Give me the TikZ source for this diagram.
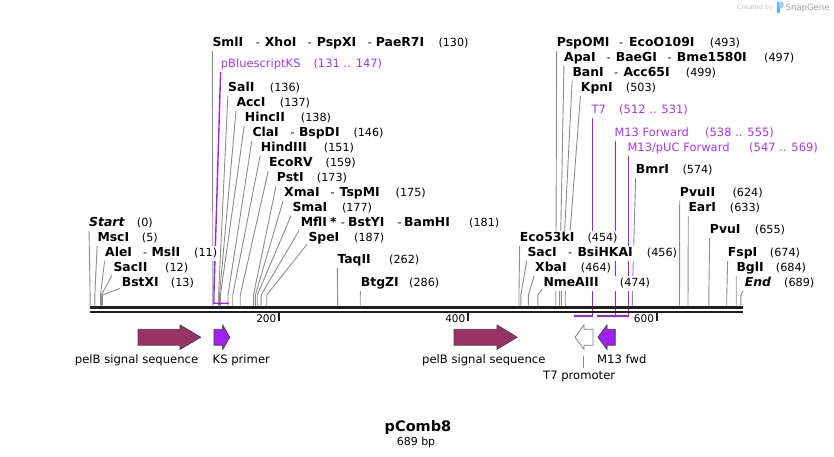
\documentclass[tikz,border=0pt]{standalone}
\usepackage{fontspec}
\setmainfont{DejaVu Sans}
\definecolor{purp}{RGB}{160,32,240}
\definecolor{purptxt}{RGB}{165,55,240}
\definecolor{pelb}{RGB}{153,51,102}
\definecolor{leadc}{RGB}{140,140,140}
\definecolor{bbc}{RGB}{30,30,30}
\definecolor{logoA}{RGB}{90,180,240}
\definecolor{logoB}{RGB}{150,210,250}
\newcommand\Lp[2]{\makebox[0pt][l]{\hspace*{#1pt}#2}}
\newcommand\E[1]{{\fontsize{12.4}{13}\selectfont\bfseries #1}}
\newcommand\EI[1]{{\fontsize{12.4}{13}\selectfont\bfseries\itshape #1}}
\newcommand\enzlab[4]{\node[lbl] (#1) at ({#2-3},{#3+4.5}) {#4};}
\begin{document}
\begin{tikzpicture}[x=1pt,y=-1pt,
  lbl/.style={anchor=base west, inner xsep=2pt, inner ysep=1.5pt, fill=white,
    text height=9pt, text depth=3pt, font=\fontsize{11.2}{13}\selectfont},
  plbl/.style={lbl, text=purptxt, font=\fontsize{11.5}{13}\selectfont},
  leader/.style={draw=leadc, line width=0.9pt},
  purpline/.style={draw=purp, line width=1.4pt},
  flbl/.style={anchor=base west, inner sep=0pt, font=\fontsize{11.6}{13}\selectfont},
  featarrow/.style={draw=black!75, line width=0.8pt, line join=miter},
  ticklbl/.style={anchor=base east, inner sep=0pt, font=\fontsize{10.5}{12}\selectfont}]
\useasboundingbox (0,0) rectangle (834,456);

% ---- leader lines (label -> site) ----
\foreach \lx/\ly/\bp in {
 213.3/41.7/130, 229/86.7/136, 237.3/101.7/137, 245.7/116.7/138, 253.3/131.7/146,
 261.7/146.7/151, 270/161.7/159, 277.7/176.7/173, 285/191.7/175, 293.3/206.7/177,
 301.7/221.7/181, 309.3/236.7/187, 338.3/259.3/262, 361.7/282/286,
 90/221.7/0, 98.3/236.7/5, 106/251.7/11, 114.3/266.7/12, 122.7/281.7/13,
 557.7/41.7/493, 565/56.7/497, 573.3/71.7/499, 581.7/86.7/503,
 636.7/169/574, 680.7/192.3/624, 689.3/206.7/633, 710.7/229/655,
 728.7/251.7/674, 737.3/266.7/684, 745.7/281.7/689,
 520.7/236.7/454, 528.3/251.7/456, 536/266.7/464, 544.3/281.7/474}
 {\draw[leader] ({\lx-1},{\ly+6}) -- ({90.1+0.9446*\bp},295) -- ({90.1+0.9446*\bp},305.6);}

% ---- purple feature markers ----
\draw[purpline] (220.7,69.5) -- (214,291.7) -- (214,303.3) -- (228.9,303.3);
\draw[purpline] (592.3,115) -- (592.3,316) -- (573.7,316);
\draw[purpline] (615.3,138) -- (615.3,316) -- (597.3,316);
\draw[purpline] (628.3,153) -- (628.3,316) -- (606.8,316);

% ---- backbone ----
\draw[bbc, line width=3.3pt] (89.5,307.3) coordinate (bbL) -- (743,307.3) coordinate (bbR);
\draw[bbc, line width=2pt] (89.5,312) -- (743,312);
\foreach \tx/\tl in {279/200, 468/400, 656.7/600}{
  \draw[bbc, line width=2pt] (\tx,312) -- (\tx,320.5);
  \node[ticklbl] at ({\tx-2.5},322.7) {\tl};}

% ---- labels: left cluster ----
\enzlab{l16}{90}{221.7}{\Lp{0}{\EI{Start}}\hspace*{47.7pt}(0)}
\enzlab{l17}{98.3}{236.7}{\Lp{0}{\E{MscI}}\hspace*{44.4pt}(5)}
\enzlab{l18}{106}{251.7}{\Lp{0}{\E{AleI}}\Lp{37.9}{-}\Lp{46.4}{\E{MslI}}\hspace*{89pt}(11)}
\enzlab{l19}{114.3}{266.7}{\Lp{0}{\E{SacII}}\hspace*{51.7pt}(12)}
\enzlab{l20}{122.7}{281.7}{\Lp{0}{\E{BstXI}}\hspace*{49pt}(13)}

% ---- labels: MCS cluster ----
\enzlab{l1}{213.3}{41.7}{\Lp{0}{\E{SmlI}}\Lp{43.4}{-}\Lp{52.4}{\E{XhoI}}\Lp{95}{-}\Lp{104.4}{\E{PspXI}}\Lp{155}{-}\Lp{163.4}{\E{PaeR7I}}\hspace*{226pt}(130)}
\node[plbl] (l2) at (218.7,67.8) {\Lp{0}{pBluescriptKS}\hspace*{92.6pt}(131 .. 147)};
\enzlab{l3}{229}{86.7}{\Lp{0}{\E{SalI}}\hspace*{41.7pt}(136)}
\enzlab{l4}{237.3}{101.7}{\Lp{0}{\E{AccI}}\hspace*{43.4pt}(137)}
\enzlab{l5}{245.7}{116.7}{\Lp{0}{\E{HincII}}\hspace*{56pt}(138)}
\enzlab{l6}{253.3}{131.7}{\Lp{0}{\E{ClaI}}\Lp{38}{-}\Lp{46.5}{\E{BspDI}}\hspace*{101pt}(146)}
\enzlab{l7}{261.7}{146.7}{\Lp{0}{\E{HindIII}}\hspace*{63pt}(151)}
\enzlab{l8}{270}{161.7}{\Lp{0}{\E{EcoRV}}\hspace*{56.5pt}(159)}
\enzlab{l9}{277.7}{176.7}{\Lp{0}{\E{PstI}}\hspace*{40pt}(173)}
\enzlab{l10}{285}{191.7}{\Lp{0}{\E{XmaI}}\Lp{46.5}{-}\Lp{55.5}{\E{TspMI}}\hspace*{111.5pt}(175)}
\enzlab{l11}{293.3}{206.7}{\Lp{0}{\E{SmaI}}\hspace*{49.5pt}(177)}
\enzlab{l12}{301.7}{221.7}{\Lp{0}{\E{MflI}}\Lp{29.3}{\E{*}}\Lp{40}{-}\Lp{47.3}{\E{BstYI}}\Lp{96.6}{-}\Lp{103.3}{\E{BamHI}}\hspace*{168.3pt}(181)}
\enzlab{l13}{309.3}{236.7}{\Lp{0}{\E{SpeI}}\hspace*{45.7pt}(187)}
\enzlab{l14}{338.3}{258.7}{\Lp{0}{\E{TaqII}}\hspace*{51.7pt}(262)}
\enzlab{l15}{361.7}{282}{\Lp{0}{\E{BtgZI}}\hspace*{48.3pt}(286)}

% ---- labels: right part ----
\enzlab{l21}{557.7}{41.7}{\Lp{0}{\E{PspOMI}}\Lp{62.3}{-}\Lp{72.3}{\E{EcoO109I}}\hspace*{153pt}(493)}
\enzlab{l22}{565}{56.7}{\Lp{0}{\E{ApaI}}\Lp{42.3}{-}\Lp{51.7}{\E{BaeGI}}\Lp{103.3}{-}\Lp{112.7}{\E{Bme1580I}}\hspace*{200pt}(497)}
\enzlab{l23}{573.3}{71.7}{\Lp{0}{\E{BanI}}\Lp{41.7}{-}\Lp{51}{\E{Acc65I}}\hspace*{113.4pt}(499)}
\enzlab{l24}{581.7}{86.7}{\Lp{0}{\E{KpnI}}\hspace*{45pt}(503)}
\node[plbl] (l25) at (589.3,113.5) {\Lp{0}{T7}\hspace*{27.7pt}(512 .. 531)};
\node[plbl] (l26) at (612.3,136.2) {\Lp{0}{M13 Forward}\hspace*{90.7pt}(538 .. 555)};
\node[plbl] (l27) at (625.3,151.2) {\Lp{0}{M13/pUC Forward}\hspace*{121.7pt}(547 .. 569)};
\enzlab{l28}{636.7}{169}{\Lp{0}{\E{BmrI}}\hspace*{46.6pt}(574)}
\enzlab{l29}{680.7}{192.3}{\Lp{0}{\E{PvuII}}\hspace*{52.6pt}(624)}
\enzlab{l30}{689.3}{206.7}{\Lp{0}{\E{EarI}}\hspace*{41.4pt}(633)}
\enzlab{l31}{710.7}{229}{\Lp{0}{\E{PvuI}}\hspace*{45pt}(655)}
\enzlab{l32}{728.7}{251.7}{\Lp{0}{\E{FspI}}\hspace*{42pt}(674)}
\enzlab{l33}{737.3}{266.7}{\Lp{0}{\E{BglI}}\hspace*{39.4pt}(684)}
\enzlab{l34}{745.7}{281.7}{\Lp{0}{\EI{End}}\hspace*{39.3pt}(689)}
\enzlab{l35}{520.7}{236.7}{\Lp{0}{\E{Eco53kI}}\hspace*{67.6pt}(454)}
\enzlab{l36}{528.3}{251.7}{\Lp{0}{\E{SacI}}\Lp{40.7}{-}\Lp{50}{\E{BsiHKAI}}\hspace*{119.4pt}(456)}
\enzlab{l37}{536}{266.7}{\Lp{0}{\E{XbaI}}\hspace*{45.7pt}(464)}
\enzlab{l38}{544.3}{281.7}{\Lp{0}{\E{NmeAIII}}\hspace*{76.4pt}(474)}

% ---- features ----
\draw[featarrow, fill=pelb] (138,329.3) -- (180,329.3) -- (180,325) -- (200.7,337.2) -- (180,349.4) -- (180,345.2) -- (138,345.2) -- cycle;
\draw[featarrow, fill=purp] (214,329.3) -- (222.7,329.3) -- (222.7,325) -- (229.7,337.2) -- (222.7,349.4) -- (222.7,345.2) -- (214,345.2) -- cycle;
\draw[featarrow, fill=pelb] (454,329.3) -- (497,329.3) -- (497,325) -- (517,337.2) -- (497,349.4) -- (497,345.2) -- (454,345.2) -- cycle;
\draw[featarrow, draw=black!50, fill=white] (593,329.3) -- (584,329.3) -- (584,325) -- (575,337.2) -- (584,349.4) -- (584,345.2) -- (593,345.2) -- cycle;
\draw[featarrow, fill=purp] (615.3,329.3) -- (607,329.3) -- (607,325) -- (598,337.2) -- (607,349.4) -- (607,345.2) -- (615.3,345.2) -- cycle;

\node[flbl] (f1) at (74.7,363.3) {pelB signal sequence};
\node[flbl] (f2) at (212.5,363.3) {KS primer};
\node[flbl] (f3) at (422,363.3) {pelB signal sequence};
\node[flbl] (f5) at (597,363.3) {M13 fwd};
\node[flbl] (f4) at (543,379.5) {T7 promoter};
\draw[leader] (583,356) -- (583,368);

% ---- title ----
\node[anchor=base, inner sep=0pt, font=\fontsize{14.5}{16}\selectfont\bfseries] (title) at (418,431) {pComb8};
\node[anchor=base, inner sep=0pt, font=\fontsize{11}{12}\selectfont] (size) at (416,445.5) {689 bp};

% ---- watermark ----
\node[anchor=base west, inner sep=0pt, text=black!25, font=\fontsize{6.5}{8}\selectfont] (wm1) at (737,9.8) {Created by};
\fill[logoA, rounded corners=0.8pt] (777,1.5) rectangle (780,13);
\fill[logoB, rounded corners=1.2pt] (778.5,1.5) rectangle (783.5,8);
\node[anchor=base west, inner sep=0pt, text=black!38, font=\fontsize{8.5}{10}\selectfont] (wm2) at (785.5,10.6) {SnapGene};
\end{tikzpicture}
\end{document}
